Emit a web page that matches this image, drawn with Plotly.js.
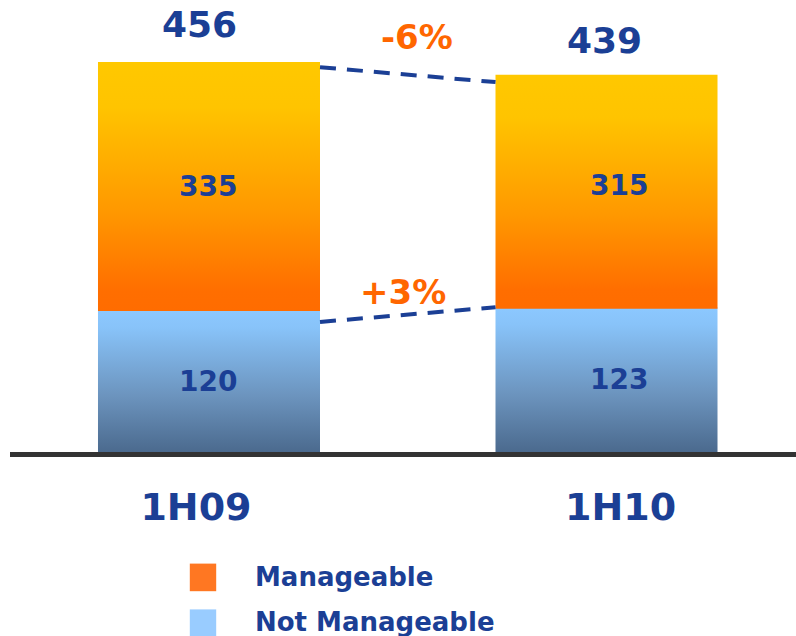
<!DOCTYPE html>
<html>
<head>
<meta charset="utf-8">
<script src="https://cdn.plot.ly/plotly-3.0.1.min.js"></script>
<style>
html,body{margin:0;padding:0;background:#ffffff;}
#chart{width:796px;height:636px;}
</style>
</head>
<body>
<div id="chart"></div>
<script>
// ---- data ----
const periods = ['1H09', '1H10'];
const manageable = [335, 315];
const notManageable = [120, 123];
const totals = [456, 439];
const changeLabels = ['-6%', '+3%'];
const seriesNames = ['Manageable', 'Not Manageable'];

// ---- style ----
const BLUE_TEXT = '#1B3F95';
const ORANGE_TEXT = '#FF6600';
const FONT = 'DejaVu Sans, Verdana, sans-serif';
const BAR_W = 0.5585;
const LABEL_XSHIFT = [-1, 12];
const MAN_YSHIFT = [0, 6];
const TOTAL_XSHIFT = [-9, -2];
const TOTAL_YSHIFT = [15, 12];
const TICK_XSHIFT = [-13, 14];

const sums = manageable.map((v, i) => v + notManageable[i]);

const traceManageable = {
  type: 'bar', name: seriesNames[0], legendgroup: 'g1',
  x: periods, y: manageable, base: notManageable,
  xaxis: 'x', yaxis: 'y2', width: BAR_W,
  marker: {color: '#FF7722', line: {width: 0}},
  hoverinfo: 'skip'
};
const traceNot = {
  type: 'bar', name: seriesNames[1], legendgroup: 'g2',
  x: periods, y: notManageable,
  xaxis: 'x', yaxis: 'y', width: BAR_W,
  marker: {color: '#99CCFF', line: {width: 0}},
  hoverinfo: 'skip'
};

const annotations = [];
periods.forEach((p, i) => {
  annotations.push({
    x: p, xref: 'x', y: sums[i], yref: 'y2', yanchor: 'bottom',
    xshift: TOTAL_XSHIFT[i], yshift: TOTAL_YSHIFT[i],
    text: String(totals[i]), showarrow: false,
    font: {family: FONT, size: 36, color: BLUE_TEXT, weight: 'bold'}
  });
  annotations.push({
    x: p, xref: 'x', y: notManageable[i] + manageable[i] / 2, yref: 'y2', yanchor: 'middle',
    xshift: LABEL_XSHIFT[i], yshift: MAN_YSHIFT[i],
    text: String(manageable[i]), showarrow: false,
    font: {family: FONT, size: 28, color: BLUE_TEXT, weight: 'bold'}
  });
  annotations.push({
    x: p, xref: 'x', y: notManageable[i] / 2, yref: 'y', yanchor: 'middle',
    xshift: LABEL_XSHIFT[i],
    text: String(notManageable[i]), showarrow: false,
    font: {family: FONT, size: 28, color: BLUE_TEXT, weight: 'bold'}
  });
});
annotations.push({
  x: 0.5, xref: 'x', y: (sums[0] + sums[1]) / 2, yref: 'y2', yanchor: 'middle',
  xshift: 9, yshift: 31, text: changeLabels[0], showarrow: false,
  font: {family: FONT, size: 34, color: ORANGE_TEXT, weight: 'bold'}
});
annotations.push({
  x: 0.5, xref: 'x', y: (notManageable[0] + notManageable[1]) / 2, yref: 'y', yanchor: 'middle',
  xshift: -5, yshift: 17, text: changeLabels[1], showarrow: false,
  font: {family: FONT, size: 34, color: ORANGE_TEXT, weight: 'bold'}
});

const shapes = [
  {type: 'line', xref: 'x', yref: 'y2',
   x0: 0 + BAR_W / 2, x1: 1 - BAR_W / 2, y0: sums[0] - 7, y1: sums[1] - 10,
   line: {color: BLUE_TEXT, width: 4, dash: '16px,11px'}},
  {type: 'line', xref: 'x', yref: 'y',
   x0: 0 + BAR_W / 2, x1: 1 - BAR_W / 2, y0: notManageable[0] - 9.5, y1: notManageable[1],
   line: {color: BLUE_TEXT, width: 4, dash: '16px,11px'}}
];

const layout = {
  width: 796, height: 636,
  margin: {l: 10, r: 0, t: 0, b: 184, pad: 0, autoexpand: false},
  paper_bgcolor: '#ffffff', plot_bgcolor: '#ffffff',
  barmode: 'overlay',
  font: {family: FONT},
  xaxis: {
    type: 'category', range: [-0.5006, 1.4767],
    showgrid: false, zeroline: false, ticks: '',
    showline: true, linecolor: '#333333', linewidth: 5,
    ticklabelstandoff: 17, automargin: false,
    tickfont: {family: FONT, size: 38, color: BLUE_TEXT, weight: 'bold'}
  },
  yaxis: {range: [0, 384.0], visible: false, showgrid: false, zeroline: false},
  yaxis2: {range: [-69.8, 538.5], overlaying: 'y', visible: false, showgrid: false, zeroline: false},
  showlegend: true,
  legend: {
    xref: 'paper', yref: 'paper', x: (151 - 10) / 786, y: (452 - 552) / 452,
    xanchor: 'left', yanchor: 'top',
    font: {family: FONT, size: 26, color: BLUE_TEXT, weight: 'bold'},
    itemwidth: 94, tracegroupgap: 9, traceorder: 'grouped',
    bgcolor: 'rgba(0,0,0,0)'
  },
  annotations: annotations,
  shapes: shapes
};

Plotly.newPlot('chart', [traceManageable, traceNot], layout, {staticPlot: true, displayModeBar: false}).then(gd => {
  const svg = gd.querySelector('svg.main-svg');
  const NS = 'http://www.w3.org/2000/svg';
  let defs = svg.querySelector('defs');
  if (!defs) { defs = document.createElementNS(NS, 'defs'); svg.insertBefore(defs, svg.firstChild); }
  function grad(id, stops) {
    const g = document.createElementNS(NS, 'linearGradient');
    g.setAttribute('id', id);
    g.setAttribute('x1', '0'); g.setAttribute('y1', '0');
    g.setAttribute('x2', '0'); g.setAttribute('y2', '1');
    stops.forEach(s => {
      const st = document.createElementNS(NS, 'stop');
      st.setAttribute('offset', s[0]);
      st.setAttribute('stop-color', s[1]);
      g.appendChild(st);
    });
    defs.appendChild(g);
  }
  grad('gradOrange', [['0', '#FFC800'], ['0.18', '#FFC400'], ['0.6', '#FF9800'], ['0.92', '#FF6E00'], ['1', '#FF6C00']]);
  grad('gradBlue', [['0', '#8CC8FF'], ['0.12', '#88C3F9'], ['0.6', '#6C94BE'], ['1', '#4B6A8E']]);
  gd.querySelectorAll('g.trace.bars').forEach(g => {
    const d = g.__data__;
    const tr = d && d[0] && d[0].trace;
    if (!tr) return;
    const id = tr.name === seriesNames[0] ? 'gradOrange' : 'gradBlue';
    g.querySelectorAll('.point path').forEach(p => { p.style.fill = 'url(#' + id + ')'; });
  });
  gd.querySelectorAll('.legend .legendpoints path').forEach(p => {
    const t = p.getAttribute('transform') || '';
    p.setAttribute('transform', t + ' translate(0,2) scale(2.2,2.3)');
  });
  gd.querySelectorAll('.xtick text').forEach((t, i) => {
    const x0 = parseFloat(t.getAttribute('x') || '0');
    t.setAttribute('x', x0 + (TICK_XSHIFT[i] || 0));
  });
});
</script>
</body>
</html>
